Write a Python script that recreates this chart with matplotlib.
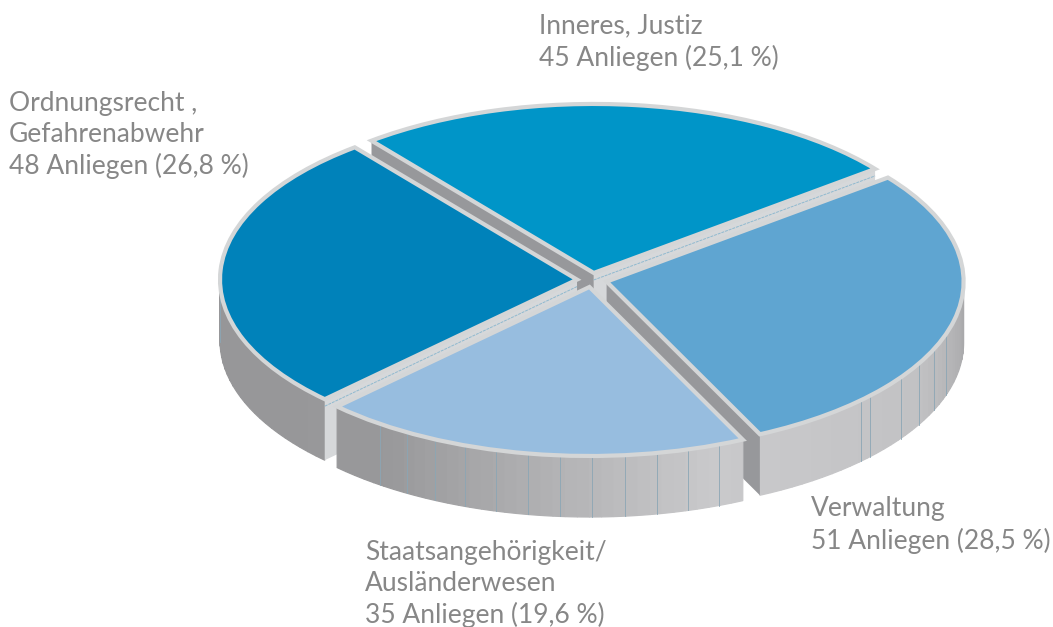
import numpy as np
import matplotlib
matplotlib.use("Agg")
import matplotlib.pyplot as plt

# data, counter-clockwise from the right tip of the first slice
labels = [
    "Inneres, Justiz\n45 Anliegen (25,1 %)",
    "Ordnungsrecht ,\nGefahrenabwehr\n48 Anliegen (26,8 %)",
    "Staatsangehörigkeit/\nAusländerwesen\n35 Anliegen (19,6 %)",
    "Verwaltung\n51 Anliegen (28,5 %)",
]
values = [45, 48, 35, 51]
colors = ["#0095c8", "#0082ba", "#97bddf", "#5fa5d1"]
label_pos = [(539, 42), (9, 135), (365, 584), (811, 525)]

W, H = 1053, 627
CX, CY, RX, RY = 592, 280, 357, 169
DEPTH = 61 / RY
RIM = "#d4d6d7"
DARK = "#97989b"

plt.rcParams["font.family"] = ["Lato", "DejaVu Sans"]

fig = plt.figure(figsize=(W / 100, H / 100), dpi=100)
ax = fig.add_axes([0, 0, 1, 1])
wedges, _ = ax.pie(
    values,
    colors=colors,
    startangle=38,
    explode=[0.042] * len(values),
    wedgeprops=dict(edgecolor=RIM, linewidth=3.0, joinstyle="miter"),
)
# squash the round pie into the tilted ellipse
ax.set_aspect("auto")
ax.set_xlim(-CX / RX, (W - CX) / RX)
ax.set_ylim((CY - H) / RY, CY / RY)


def wall_gray(theta):
    """Grey of the outer wall, lighter towards the front right."""
    t = (theta + 180) % 360 - 180
    v = np.interp(t, [-180, -125, -70, -30, 0], [0x96, 0x98, 0xc9, 0xc2, 0xa8])
    return (v / 255, v / 255, (v + 2) / 255)


def draw_wall(w, z):
    """Outer wall of the front part of a slice, drawn in small facets."""
    t1, t2 = max(w.theta1, 180), min(w.theta2, 360)
    if w.theta1 < 0:
        t1, t2 = max(w.theta1 + 360, 180), min(w.theta2 + 360, 360)
    if t2 <= t1:
        return
    cx, cy = w.center
    edges = np.linspace(t1, t2, int((t2 - t1) / 2) + 2)
    for a, b in zip(edges[:-1], edges[1:]):
        th = np.radians(np.linspace(a, b, 5))
        x = cx + np.cos(th)
        y = cy + np.sin(th)
        col = wall_gray((a + b) / 2)
        ax.fill(
            np.r_[x, x[::-1]], np.r_[y, y[::-1] - DEPTH],
            facecolor=col, edgecolor=col, lw=0.9, zorder=z,
        )
    # thin seams between the wall panels
    if 200 < t1 < 250:
        seams = np.arange(t1 + 9, t2 - 4, 5.2)
    elif t1 >= 280:
        seams = np.r_[t1 + 20, t1 + 22, np.arange(t1 + 30, 346, 5.5)]
    else:
        seams = [t1 + 0.4]
    for s in seams:
        r = np.radians(s)
        ax.plot(
            [cx + np.cos(r)] * 2, [cy + np.sin(r), cy + np.sin(r) - DEPTH],
            color="#8ba6b5", lw=0.6, zorder=z + 0.1,
        )


def draw_faces(w, z):
    """Flat cut faces of a slice that look towards the viewer."""
    cx, cy = w.center
    for theta, normal in [(w.theta1, w.theta1 - 90), (w.theta2, w.theta2 + 90)]:
        if np.sin(np.radians(normal)) >= 0:
            continue
        r = np.radians(theta)
        x = [cx, cx + np.cos(r), cx + np.cos(r), cx]
        y = [cy, cy + np.sin(r), cy + np.sin(r) - DEPTH, cy - DEPTH]
        light = np.cos(np.radians(normal)) > 0
        ax.fill(x, y, color="#d6d8da" if light else DARK, lw=0, zorder=z + 0.2)
        if light:
            ax.plot(
                [cx, cx + np.cos(r)],
                [cy - 7 / RY, cy + np.sin(r) - 7 / RY],
                color="#8fb9cf", lw=0.7, ls=(0, (3, 1)), zorder=z + 0.3,
            )


# painter's order: back slices first
order = sorted(wedges, key=lambda w: -np.sin(np.radians((w.theta1 + w.theta2) / 2)))
for i, w in enumerate(order):
    z = 2 + i
    draw_wall(w, z)
    draw_faces(w, z)
    w.set_zorder(z + 0.5)

for text, (px, py) in zip(labels, label_pos):
    ax.text(
        px / W, 1 - py / H, text, transform=fig.transFigure,
        ha="left", va="center", fontsize=19, color="#878787",
        linespacing=1.29, zorder=20,
    )

fig.savefig("out.png", dpi=100)
